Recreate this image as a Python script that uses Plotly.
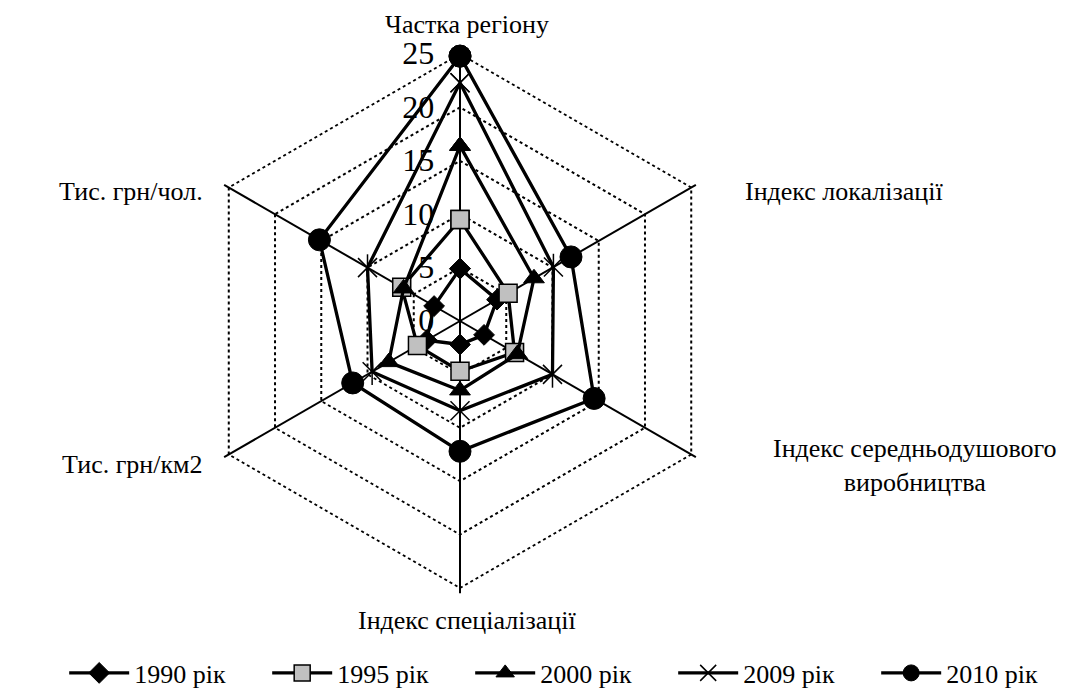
import plotly.graph_objects as go

categories = ["Частка регіону", "Індекс локалізації",
              "Індекс середньодушового<br>виробництва", "Індекс спеціалізації",
              "Тис. грн/км2", "Тис. грн/чол."]
series_names = ["1990 рік", "1995 рік", "2000 рік", "2009 рік", "2010 рік"]
v1990 = [4.9, 4.0, 2.6, 2.2, 3.6, 2.8]
v1995 = [9.5, 5.2, 5.9, 4.7, 4.6, 6.3]
v2000 = [16.4, 8.0, 6.2, 6.5, 7.7, 6.1]
v2009 = [22.3, 10.1, 10.0, 8.4, 9.5, 10.0]
v2010 = [24.8, 12.0, 14.5, 12.2, 11.6, 15.2]
radial_ticks = [0, 5, 10, 15, 20, 25]

FONT = "Liberation Serif"
W, H = 1084, 698

def closed(v):
    return list(v) + [v[0]]

theta = closed(categories)

styles = [
    dict(symbol="diamond", size=16, color="black", line=dict(color="black", width=1)),
    dict(symbol="square", size=18, color="#c0c0c0", line=dict(color="black", width=1.5)),
    dict(symbol="triangle-up", size=18, color="black", line=dict(color="black", width=1)),
    dict(symbol="x-thin-open", size=19, color="black", line=dict(color="black", width=1.5)),
    dict(symbol="circle", size=22, color="black", line=dict(color="black", width=1)),
]

fig = go.Figure()
for name, vals, mk in zip(series_names, [v1990, v1995, v2000, v2009, v2010], styles):
    fig.add_trace(go.Scatterpolar(
        r=closed(vals), theta=theta, name=name, mode="lines+markers",
        line=dict(color="black", width=3.3), marker=mk,
    ))
    if mk["symbol"] == "x-thin-open":
        fig.add_trace(go.Scatterpolar(
            r=closed(vals), theta=theta, mode="markers", showlegend=False,
            marker=dict(symbol="line-ns-open", size=19, color="black",
                        line=dict(color="black", width=1.5)),
            hoverinfo="skip",
        ))

# category labels placed around the hexagon (pixel anchor, xanchor, yanchor)
label_pos = [
    (459, 17, "center", "middle"),
    (735, 183, "left", "middle"),
    (907, 457, "center", "middle"),
    (459, 612, "center", "middle"),
    (197, 456, "right", "middle"),
    (197, 183, "right", "middle"),
]
annotations = []
for text, (px, py, xa, ya) in zip(categories, label_pos):
    annotations.append(dict(
        text=text, x=px / W, y=1 - py / H, xref="paper", yref="paper",
        xanchor=xa, yanchor=ya, align="center", showarrow=False,
        font=dict(size=26, family=FONT, color="black"),
    ))

RMAX = 25.5
cx, cy, R = 452, 313, 267 * RMAX / 25
fig.update_layout(
    width=W, height=H,
    margin=dict(l=0, r=0, t=0, b=0),
    paper_bgcolor="white",
    font=dict(family=FONT, color="black"),
    annotations=annotations,
    polar=dict(
        domain=dict(x=[(cx - R) / W, (cx + R) / W], y=[1 - (cy + R) / H, 1 - (cy - R) / H]),
        bgcolor="white",
        gridshape="linear",
        radialaxis=dict(
            range=[0, RMAX], tickvals=radial_ticks, angle=90, side="counterclockwise",
            tickangle=90, tickfont=dict(size=32, family=FONT),
            ticks="outside", ticklen=14, tickcolor="rgba(0,0,0,0)",
            showline=False, gridcolor="black", gridwidth=1.5, griddash="dot",
        ),
        angularaxis=dict(
            direction="clockwise", rotation=90, showline=False, ticks="",
            showticklabels=False,
            gridcolor="black", gridwidth=1.5,
        ),
    ),
    legend=dict(orientation="h", x=0.52, xanchor="center", y=1 - 665 / H, yanchor="middle",
                font=dict(size=26, family=FONT), itemwidth=60,
                entrywidth=128, entrywidthmode="pixels"),
)

fig.write_html("out.html")
